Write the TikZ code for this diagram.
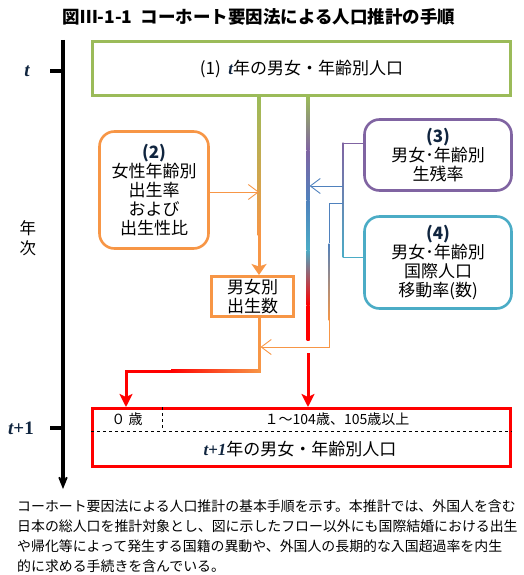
\documentclass[tikz,border=0pt]{standalone}
\usepackage{fontspec}
\setmainfont{Noto Sans CJK JP}
\newfontfamily\tfont{Liberation Serif}
\usetikzlibrary{arrows.meta, positioning, calc}
\XeTeXlinebreaklocale "ja"
\XeTeXlinebreakskip=0pt plus 1pt

\definecolor{pgreen}{RGB}{155,187,89}
\definecolor{porange}{RGB}{247,150,70}
\definecolor{ppurple}{RGB}{128,100,162}
\definecolor{pcyan}{RGB}{75,172,198}
\definecolor{pblue}{RGB}{79,129,189}
\definecolor{pnavy}{RGB}{16,37,63}
\definecolor{ppale}{RGB}{226,222,180}

\tikzset{
  popbox/.style={draw, line width=3pt, inner sep=0pt, align=center},
  ratebox/.style={draw, line width=2.6pt, rounded corners=15pt, inner sep=0pt, align=center},
  boxfont/.style={font=\fontsize{17}{19}\selectfont},
  flow/.style={line width=3pt},
  feed/.style={line width=0.9pt, -{Straight Barb[length=10pt,width=15pt]}},
  headtip/.style={-{Stealth[length=13pt,width=13pt,inset=3pt]}},
}

\begin{document}
\begin{tikzpicture}[x=1pt, y=-1pt]
    \useasboundingbox (0,0) rectangle (523,575);

    % Title
    \node[font=\fontsize{17.5}{20}\selectfont\bfseries] (title) at (259,17) {図Ⅲ-1-1\ \ コーホート要因法による人口推計の手順};

    % Time axis
    \coordinate (axtop) at (63,40);
    \coordinate (axend) at (63,489);
    \draw[line width=3.5pt, -{Stealth[length=22pt,width=18pt,inset=15pt]}] (axtop) -- (axend);
    \node[font=\fontsize{19}{20}\selectfont, text=pnavy] (tnow) at (27,71) {\tfont\bfseries\itshape t};
    \node[font=\fontsize{19}{20}\selectfont, text=pnavy] (tnext) at (21,428) {\tfont\bfseries{\itshape t}+1};
    \draw[line width=3.5pt] (tnow -| axtop) -- ++(-13,0);
    \draw[line width=3.5pt] (tnext -| axtop) -- ++(-13,0);
    \node[font=\fontsize{16.5}{20}\selectfont, align=center] (yearlab) at (28,238) {年\\次};

    % Boxes
    \node[popbox, draw=pgreen, minimum width=418pt, minimum height=54pt, boxfont] (pop0) at (301.5,68.5)
        {(1)\ \ {\tfont\bfseries\itshape\color{pnavy}t}年の男女・年齢別人口};
    \node[ratebox, draw=porange, minimum width=109pt, minimum height=117pt, boxfont] (fert) at (154,190)
        {{\bfseries\color{pnavy}(2)}\\女性年齢別\\出生率\\および\\出生性比};
    \node[popbox, draw=porange, minimum width=82pt, minimum height=40pt, boxfont] (births) at (252.5,296.5)
        {男女別\\出生数};
    \node[ratebox, draw=ppurple, minimum width=147pt, minimum height=71pt, boxfont] (surv) at (438,155)
        {{\bfseries\color{pnavy}(3)}\\男女･年齢別\\生残率};
    \node[ratebox, draw=pcyan, minimum width=147pt, minimum height=92pt, boxfont] (migr) at (438,262.5)
        {{\bfseries\color{pnavy}(4)}\\男女･年齢別\\国際人口\\移動率(数)};
    \node[popbox, draw=red, minimum width=418pt, minimum height=58pt] (pop1) at (301.5,437.5) {};

    % Inside t+1 box
    \coordinate (agesplit) at (162,431);
    \draw[dashed, line width=0.6pt] (pop1.west |- agesplit) -- (pop1.east |- agesplit);
    \draw[dashed, line width=0.6pt] (pop1.north -| agesplit) -- (agesplit);
    \node[font=\fontsize{14}{16}\selectfont] (age0) at (127,419) {０ 歳};
    \node[font=\fontsize{14}{16}\selectfont] (ageup) at (337,419) {１～104歳、105歳以上};
    \node[boxfont] (pop1lab) at (300,449) {{\tfont\bfseries\color{pnavy}{\itshape t}+{\itshape 1}}年の男女・年齢別人口};

    % Flow lines
    \coordinate (l1) at (259,0);
    \coordinate (l2) at (308,0);
    \coordinate (jx) at (343,0);

    % births line, green to orange
    \draw[flow, porange, -{Stealth[length=11pt,width=15pt,inset=2.5pt]}] (pop0.south -| l1) -- (births.north -| l1);
    \shade[top color=pgreen, middle color=ppale, bottom color=porange] (257.5,97) rectangle (260.5,235);

    % survivors line, green to red
    \foreach \ya/\yb/\ca/\cb in {97/150/pgreen/ppurple, 150/200/ppurple/pblue, 200/250/pblue/pcyan, 250/305/pcyan/red, 305/340/red/red}
        \shade[top color=\ca, bottom color=\cb] (306.5,\ya) rectangle (309.5,\yb);
    \coordinate (l2gap) at (308,353);
    \draw[flow, red, headtip] (l2gap) -- (pop1.north -| l2gap);

    % births down to age 0
    \coordinate (bend) at (259,371);
    \coordinate (zerobend) at (126,371);
    \draw[flow, porange] (births.south -| l1) -- ([yshift=-1.5pt]bend);
    \shade[left color=red, right color=porange] ($(zerobend)+(45,-1.5)$) rectangle ($(bend)+(1.5,1.5)$);
    \fill[red] ($(zerobend)+(-1.5,-1.5)$) rectangle ($(zerobend)+(45,1.5)$);
    \draw[flow, red, headtip] (zerobend) -- (pop1.north -| zerobend);

    % fertility into births line
    \draw[feed, porange] ([yshift=-2pt]fert.east) -- ([yshift=-2pt]fert.east -| l1);

    % survival and migration rates
    \coordinate (survjoin) at ([yshift=12pt]surv.west -| jx);
    \coordinate (migrjoin) at ([yshift=5pt]migr.west -| jx);
    \draw[line width=0.9pt, ppurple] ([yshift=12pt]surv.west) -- (survjoin);
    \draw[line width=0.9pt, pcyan] ([yshift=5pt]migr.west) -- (migrjoin);
    \shade[top color=ppurple, middle color=white!75!ppurple, bottom color=pcyan] ($(survjoin)+(-0.45,-0.45)$) rectangle ($(migrjoin)+(0.45,0.45)$);
    \coordinate (survin) at (343,186);
    \draw[feed, pblue, shorten >=1.5pt] (survin) -- (survin -| l2);

    % migration into births line
    \coordinate (migrout) at (343,203);
    \coordinate (migrdown) at (329,203);
    \coordinate (migrin) at (329,347);
    \draw[line width=0.9pt, pblue] (migrout) -- (migrdown) -- (329,243);
    \shade[top color=pblue, bottom color=porange] (328.55,243) rectangle (329.45,320);
    \draw[feed, porange, shorten >=1.5pt] (migrin |- 0,320) -- (migrin) -- (migrin -| l1);

    % Description
    \node[anchor=west, inner sep=0pt, font=\fontsize{13.9}{20}\selectfont] (desc1) at (17,506)
        {\makebox[501pt][s]{コーホート要因法による人口推計の基本手順を示す。本推計では、外国人を含む}};
    \node[anchor=west, inner sep=0pt, font=\fontsize{13.9}{20}\selectfont] (desc2) at (17,526)
        {\makebox[501pt][s]{日本の総人口を推計対象とし、図に示したフロー以外にも国際結婚における出生}};
    \node[anchor=west, inner sep=0pt, font=\fontsize{13.9}{20}\selectfont] (desc3) at (17,546)
        {\makebox[501pt][s]{や帰化等によって発生する国籍の異動や、外国人の長期的な入国超過率を内生}};
    \node[anchor=west, inner sep=0pt, font=\fontsize{13.9}{20}\selectfont] (desc4) at (17,566)
        {的に求める手続きを含んでいる。};
\end{tikzpicture}
\end{document}
